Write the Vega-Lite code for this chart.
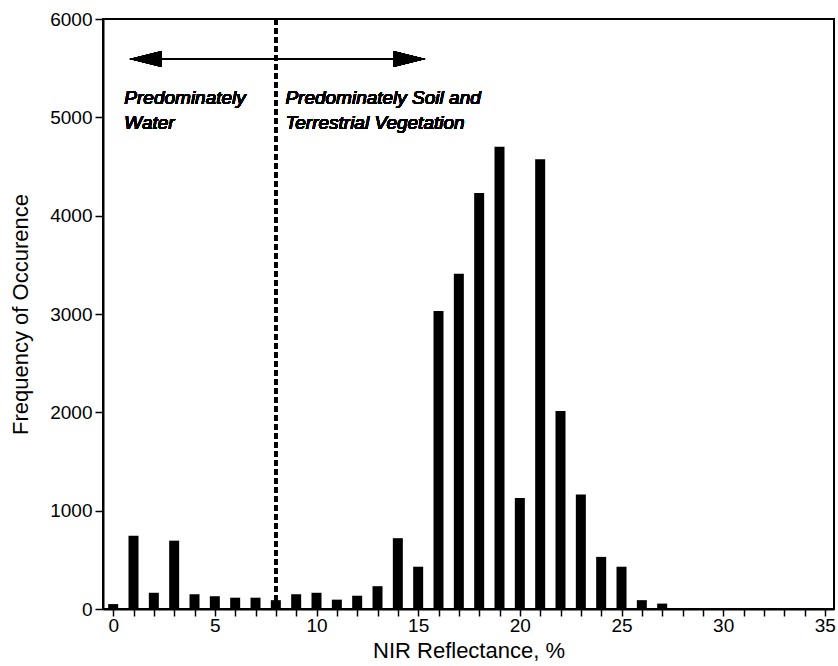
{
  "$schema": "https://vega.github.io/schema/vega-lite/v6.json",
  "autosize": {"type": "none"},
  "padding": {"left": 103, "top": 19, "right": 4, "bottom": 57},
  "width": 731,
  "height": 590,
  "background": "white",
  "config": {
    "view": {"stroke": "black", "strokeWidth": 2},
    "font": "Liberation Sans",
    "axis": {
      "domainColor": "black", "domainWidth": 2,
      "tickColor": "black", "tickWidth": 1.5,
      "labelColor": "black", "titleColor": "black",
      "labelFont": "Liberation Sans", "titleFont": "Liberation Sans",
      "labelFontWeight": "normal", "titleFontWeight": "normal",
      "grid": false
    }
  },
  "data": {"values": [
    {"reflectance": 0, "frequency": 50},
    {"reflectance": 1, "frequency": 745},
    {"reflectance": 2, "frequency": 165},
    {"reflectance": 3, "frequency": 695},
    {"reflectance": 4, "frequency": 150},
    {"reflectance": 5, "frequency": 130},
    {"reflectance": 6, "frequency": 115},
    {"reflectance": 7, "frequency": 115},
    {"reflectance": 8, "frequency": 90},
    {"reflectance": 9, "frequency": 150},
    {"reflectance": 10, "frequency": 165},
    {"reflectance": 11, "frequency": 95},
    {"reflectance": 12, "frequency": 135},
    {"reflectance": 13, "frequency": 232},
    {"reflectance": 14, "frequency": 720},
    {"reflectance": 15, "frequency": 430},
    {"reflectance": 16, "frequency": 3030},
    {"reflectance": 17, "frequency": 3410},
    {"reflectance": 18, "frequency": 4230},
    {"reflectance": 19, "frequency": 4700},
    {"reflectance": 20, "frequency": 1130},
    {"reflectance": 21, "frequency": 4575},
    {"reflectance": 22, "frequency": 2013},
    {"reflectance": 23, "frequency": 1165},
    {"reflectance": 24, "frequency": 530},
    {"reflectance": 25, "frequency": 430},
    {"reflectance": 26, "frequency": 90},
    {"reflectance": 27, "frequency": 55}
  ]},
  "layer": [
    {
      "mark": {"type": "bar", "color": "black", "size": 10},
      "encoding": {
        "x": {
          "field": "reflectance", "type": "quantitative",
          "scale": {"domain": [-0.5, 35.45], "nice": false, "zero": false, "padding": 0},
          "axis": {
            "title": "NIR Reflectance, %",
            "titleFontSize": 22, "titlePadding": 5,
            "labelFontSize": 19, "labelPadding": 0,
            "tickSize": 7,
            "tickCount": 100,
            "values": [0,1,2,3,4,5,6,7,8,9,10,11,12,13,14,15,16,17,18,19,20,21,22,23,24,25,26,27,28,29,30,31,32,33,34,35],
            "labelExpr": "datum.value % 5 == 0 ? format(datum.value, 'd') : ''",
            "labelFlush": false, "labelOverlap": false, "labelBound": false
          }
        },
        "y": {
          "field": "frequency", "type": "quantitative",
          "scale": {"domain": [0, 6000], "nice": false},
          "axis": {
            "title": "Frequency of Occurence",
            "titleFontSize": 22, "titlePadding": 17,
            "labelFontSize": 19, "labelPadding": 3,
            "tickSize": 8,
            "values": [0, 1000, 2000, 3000, 4000, 5000, 6000],
            "format": "d"
          }
        }
      }
    },
    {
      "mark": {"type": "rule", "color": "black", "strokeWidth": 2.5, "strokeDash": [6, 3]},
      "encoding": {"x": {"datum": 8}}
    },
    {
      "mark": {"type": "rule", "color": "black", "strokeWidth": 2},
      "encoding": {"x": {"datum": 1.2}, "x2": {"datum": 15.2}, "y": {"datum": 5593}}
    },
    {
      "mark": {"type": "point", "shape": "M-1,0L1,-0.5L1,0.5Z", "filled": true, "color": "black", "opacity": 1, "size": 1024},
      "encoding": {"x": {"datum": 1.6}, "y": {"datum": 5593}}
    },
    {
      "mark": {"type": "point", "shape": "M1,0L-1,-0.5L-1,0.5Z", "filled": true, "color": "black", "opacity": 1, "size": 1024},
      "encoding": {"x": {"datum": 14.56}, "y": {"datum": 5593}}
    },
    {
      "mark": {"type": "text", "text": ["Predominately", "Water"], "align": "left", "baseline": "alphabetic", "font": "Liberation Sans", "fontSize": 19, "fontStyle": "italic", "lineHeight": 25, "fill": "black"},
      "encoding": {"x": {"datum": 0.55}, "y": {"datum": 5136}}
    },
    {
      "mark": {"type": "text", "text": ["Predominately Soil and", "Terrestrial Vegetation"], "align": "left", "baseline": "alphabetic", "font": "Liberation Sans", "fontSize": 19, "fontStyle": "italic", "lineHeight": 25, "fill": "black"},
      "encoding": {"x": {"datum": 8.47}, "y": {"datum": 5136}}
    }
  ]
}
